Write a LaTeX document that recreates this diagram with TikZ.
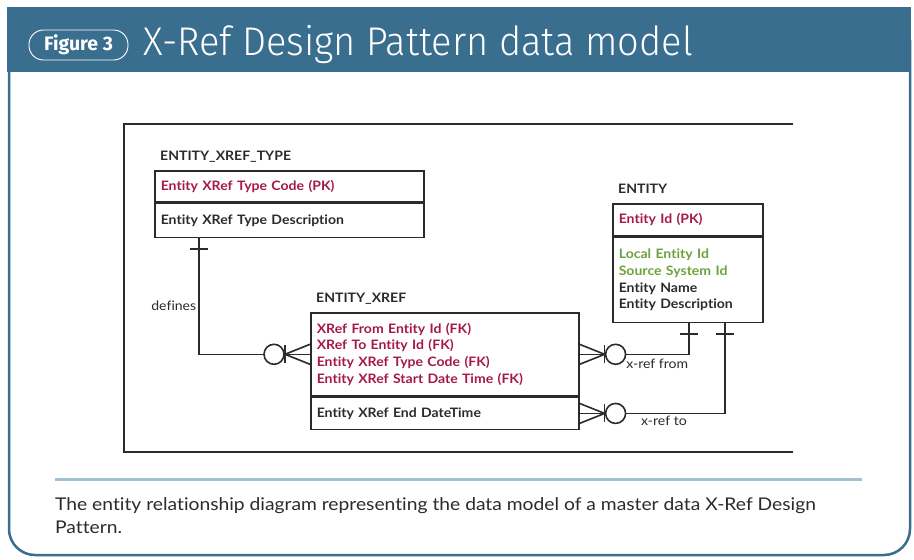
\documentclass[tikz,border=0pt]{standalone}
\usepackage{fontspec}
\setmainfont{Lato}
\newfontfamily\titlefont[FakeStretch=0.95]{Fira Sans Light}
\newfontfamily\pillfont[FakeStretch=1.0]{Fira Sans}
\newfontfamily\capfont[FakeStretch=1.10,Ligatures=NoCommon]{Lato}
\newfontfamily\diafont[FakeStretch=1.08,Ligatures=NoCommon]{Lato}
\usetikzlibrary{positioning}
\definecolor{headblue}{HTML}{3A6E8F}
\definecolor{rulblue}{HTML}{A3C0D3}
\definecolor{keyred}{HTML}{A6184B}
\definecolor{attgreen}{HTML}{6DA33C}
\definecolor{inkgray}{HTML}{2B2B2B}

\begin{document}
\begin{tikzpicture}[x=1pt,y=-1pt,node distance=0pt]
    \tikzset{
      keybox/.style={rectangle,draw=inkgray,line width=1.6pt,inner xsep=6pt,inner ysep=0pt,align=left,text=keyred,font=\diafont\fontsize{13}{16.8}\selectfont\bfseries},
      attrbox/.style={keybox,text=inkgray},
      entitylabel/.style={inner sep=0pt,text depth=0pt,text=inkgray,font=\diafont\fontsize{13}{15}\selectfont\bfseries},
      rellabel/.style={inner sep=2pt,text=inkgray,font=\diafont\fontsize{13}{15}\selectfont},
      relline/.style={draw=inkgray,line width=1.6pt},
      zeromany/.pic={
        \draw[relline] (0,-10) -- (25,0) -- (0,10);
        \draw[relline] (25,-9) -- (25,9);
        \draw[relline,fill=white] (36,0) circle[radius=10];
      },
      onebar/.pic={\draw[relline] (-9,11) -- (9,11);}
    }
    \useasboundingbox (0,0) rectangle (914,560);
    \fill[white] (0,0) rectangle (914,560);

    % panel and heading
    \draw[headblue,line width=2.5pt,rounded corners=26pt] (9,40) -- (9,555) -- (910,555) -- (910,40);
    \fill[headblue] (7,7) rectangle (911,72);
    \node[draw=white,line width=0.9pt,rounded corners=14.5pt,minimum width=99pt,minimum height=30pt,inner sep=0pt,text=white,font=\pillfont\fontsize{19.5}{19.5}\selectfont\bfseries](fignum) at (78.5,45){Figure 3};
    \node[right=15pt of fignum,inner sep=0pt,text=white,font=\titlefont\fontsize{40}{40}\selectfont](figtitle){X-Ref Design Pattern data model};

    % diagram frame
    \draw[inkgray,line width=1.8pt] (793,124) -| (124,452) -- (793,452);

    % entities
    \node[keybox,text width=257pt,minimum height=31pt,anchor=north west](typekey) at (154,170){Entity XRef Type Code (PK)};
    \node[attrbox,text width=257pt,minimum height=34pt,below=of typekey](typeattr){Entity XRef Type Description};
    \node[entitylabel,above right=9pt and 6pt of typekey.north west](typetitle){ENTITY\_XREF\_TYPE};

    \node[keybox,text width=138pt,minimum height=32pt,anchor=north west](entkey) at (612,203){Entity Id (PK)};
    \node[attrbox,text width=138pt,minimum height=85pt,below=of entkey](entattr){\textcolor{attgreen}{Local Entity Id}\\\textcolor{attgreen}{Source System Id}\\Entity Name\\Entity Description};
    \node[entitylabel,above right=9pt and 6pt of entkey.north west](enttitle){ENTITY};

    \node[keybox,text width=256pt,minimum height=83pt,anchor=north west](xrefkey) at (310,312){XRef From Entity Id (FK)\\XRef To Entity Id (FK)\\Entity XRef Type Code (FK)\\Entity XRef Start Date Time (FK)};
    \node[attrbox,text width=256pt,minimum height=32pt,below=of xrefkey](xrefattr){Entity XRef End DateTime};
    \node[entitylabel,above right=9pt and 6pt of xrefkey.north west](xreftitle){ENTITY\_XREF};

    % relationships
    \draw[relline]([xshift=45pt]typeattr.south west) |- node[rellabel,left,pos=0.29]{defines} (xrefkey.west);
    \pic at ([xshift=45pt]typeattr.south west){onebar};
    \pic[xscale=-1] at (xrefkey.west){zeromany};

    \draw[relline](xrefkey.east) -| node[rellabel,below left,pos=0.5,xshift=2pt,yshift=-2pt]{x-ref from} ([xshift=77pt]entattr.south west);
    \pic at (xrefkey.east){zeromany};
    \pic at ([xshift=77pt]entattr.south west){onebar};

    \draw[relline](xrefattr.east) -| node[rellabel,below,pos=0.29]{x-ref to} ([xshift=113pt]entattr.south west);
    \pic at (xrefattr.east){zeromany};
    \pic at ([xshift=113pt]entattr.south west){onebar};

    % caption
    \draw[rulblue,line width=3pt] (55,479) -- (862,479);
    \node[anchor=north west,inner sep=0pt,align=left,text=inkgray,font=\capfont\fontsize{17.5}{23}\selectfont](caption) at (55,497){The entity relationship diagram representing the data model of a master data X-Ref Design\\Pattern.};
  \end{tikzpicture}
\end{document}
